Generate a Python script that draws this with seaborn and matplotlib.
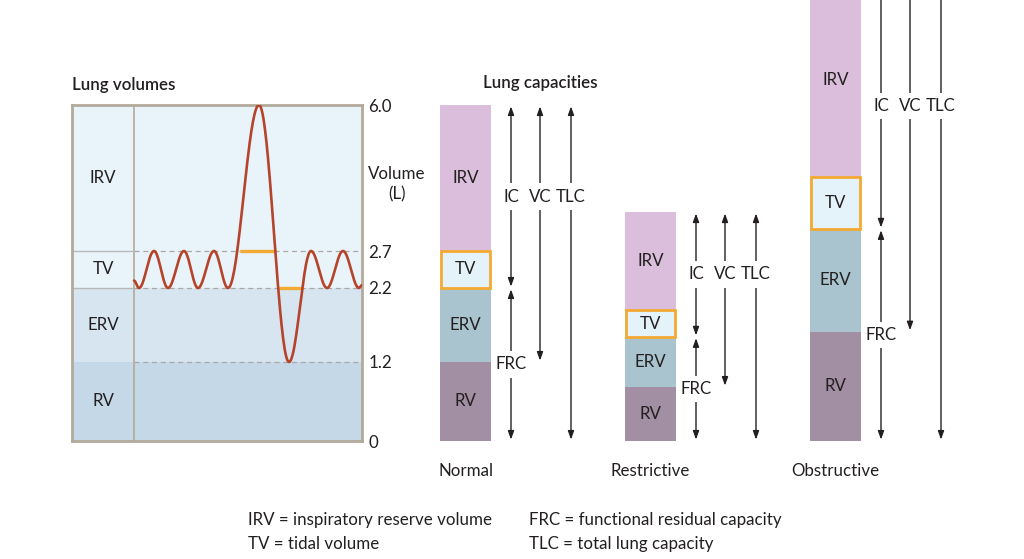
import numpy as np
import matplotlib
matplotlib.use("Agg")
import matplotlib.pyplot as plt
import seaborn as sns
import pandas as pd

# ---------------- data ----------------
volume_ticks = [0, 1.2, 2.2, 2.7, 6.0]
volume_tick_labels = ["0", "1.2", "2.2", "2.7", "6.0"]
band_names = ["RV", "ERV", "TV", "IRV"]
band_lower = [0, 1.2, 2.2, 2.7]
band_upper = [1.2, 2.2, 2.7, 6.0]

# spirogram turning points (time in arbitrary units, volume in L)
trace_time = [62, 67, 82, 96, 112, 126, 142, 156, 187, 217, 239, 255, 271, 287, 290]
trace_volume = [2.3, 2.2, 2.7, 2.2, 2.7, 2.2, 2.7, 2.2, 6.0, 1.2, 2.7, 2.2, 2.7, 2.2, 2.24]
tv_mark_start = [168, 207]
tv_mark_end = [204, 230]
tv_mark_level = [2.7, 2.2]

conditions = ["Normal", "Restrictive", "Obstructive"]
rv_top = [1.2, 0.82, 1.61]
frc_top = [2.2, 1.54, 3.2]
tv_top = [2.7, 1.90, 4.37]
tlc_top = [6.0, 3.58, 8.75]

legend_left = ["IRV = inspiratory reserve volume", "TV = tidal volume"]
legend_right = ["FRC = functional residual capacity", "TLC = total lung capacity"]

# ---------------- styling ----------------
sns.set_theme(style="white")
plt.rcParams["font.family"] = ["Lato", "DejaVu Sans"]
TXT = "#231f20"
plt.rcParams["text.color"] = TXT
FS = 12.2

C_IRV_BAND = "#e9f4fa"
C_ERV_BAND = "#d6e5f0"
C_RV_BAND = "#c5d8e7"
C_FRAME = "#b3aa9b"
C_CURVE = "#b5442a"
C_ORANGE = "#f4aa32"
C_IRV = "#dbbedb"
C_TV = "#e4f2fa"
C_ERV = "#a9c4ce"
C_RV = "#a38fa3"

# schematic (non-linear) volume scale
L_PTS = np.array([0, 1.2, 2.2, 2.7, 6.0, 20.0])
P_PTS = np.array([0, 79, 153, 190, 336, 336 + 14.0 * 146 / 3.3])


def fwd(v):
    return np.interp(v, L_PTS, P_PTS)


def inv(p):
    return np.interp(p, P_PTS, L_PTS)


def dmid(a, b):
    return float(inv((fwd(a) + fwd(b)) / 2))


W, H = 1024, 559
fig = plt.figure(figsize=(W / 100, H / 100), dpi=100)

# ---------------- left panel: lung volumes ----------------
ax1 = fig.add_axes([72 / W, 1 - 441 / H, 290 / W, 336 / H])
ax1.set_yscale("function", functions=(fwd, inv))
ax1.set_xlim(0, 290)
ax1.set_ylim(0, 6.0)
band_cols = [C_RV_BAND, C_ERV_BAND, C_IRV_BAND, C_IRV_BAND]
for lo, hi, c in zip(band_lower, band_upper, band_cols):
    ax1.axhspan(lo, hi, color=c, lw=0, zorder=0)
ax1.axvline(62, color=C_FRAME, lw=1.2, zorder=1)
for lv in [2.2, 2.7]:
    ax1.plot([0, 62], [lv, lv], color="#b8b8b8", lw=1.0, zorder=1)
for lv in [1.2, 2.2, 2.7]:
    ax1.plot([62, 290], [lv, lv], color="#a8a8a8", lw=0.9, ls=(0, (4, 3)), zorder=1)
for name, lo, hi in zip(band_names, band_lower, band_upper):
    ax1.text(31, dmid(lo, hi), name, ha="center", va="center", fontsize=FS)

# smooth trace through turning points (half-cosine between extremes, in display space)
seg_t, seg_d = [], []
dv = fwd(np.array(trace_volume))
for i in range(len(trace_time) - 1):
    s = np.linspace(0, 1, 40, endpoint=False)
    seg_t.append(trace_time[i] + (trace_time[i + 1] - trace_time[i]) * s)
    seg_d.append(dv[i] + (dv[i + 1] - dv[i]) * (1 - np.cos(np.pi * s)) / 2)
seg_t.append([trace_time[-1]])
seg_d.append([dv[-1]])
trace = pd.DataFrame({"t": np.concatenate(seg_t), "v": inv(np.concatenate(seg_d))})
for a, b, lv in zip(tv_mark_start, tv_mark_end, tv_mark_level):
    ax1.plot([a, b], [lv, lv], color=C_ORANGE, lw=2.4, zorder=2, solid_capstyle="butt")
sns.lineplot(data=trace, x="t", y="v", sort=False, estimator=None, color=C_CURVE,
             lw=1.9, ax=ax1, zorder=3)
ax1.set_xlabel("")
ax1.set_ylabel("")
ax1.set_xticks([])
ax1.yaxis.tick_right()
ax1.set_yticks(volume_ticks)
ax1.set_yticklabels(volume_tick_labels, fontsize=FS, color=TXT)
ax1.tick_params(axis="y", length=0, pad=4.5)
for sp in ax1.spines.values():
    sp.set_color(C_FRAME)
    sp.set_linewidth(2.0)
fig.text(72 / W, 1 - 85 / H, "Lung volumes", ha="left", va="center", fontsize=FS,
         fontweight="semibold")

# ---------------- right panel: lung capacities ----------------
ax2 = fig.add_axes([420 / W, 1 - 441 / H, 580 / W, 441 / H])
ax2.set_facecolor("none")
ax2.set_yscale("function", functions=(fwd, inv))
bw = 51 / 185
layers = [(tlc_top, C_IRV), (tv_top, C_TV), (frc_top, C_ERV), (rv_top, C_RV)]
for heights, col in layers:
    sns.barplot(x=conditions, y=heights, order=conditions, color=col, saturation=1,
                width=bw, linewidth=0, ax=ax2, zorder=2)
ax2.bar(range(3), np.array(tv_top) - np.array(frc_top), bottom=frc_top, width=bw - 0.012,
        fill=False, edgecolor=C_ORANGE, linewidth=2.0, zorder=2.5)
ax2.set_xlim((420 - 465.5) / 185, (1000 - 465.5) / 185)
ax2.set_ylim(0, float(inv(441)))

offs = {"IC": 45.5 / 185, "VC": 74.5 / 185, "TLC": 105.5 / 185}
aprops = dict(arrowstyle="<|-|>,head_length=0.5,head_width=0.18", color=TXT, lw=1.0,
              shrinkA=1, shrinkB=1, mutation_scale=10)
bbox = dict(boxstyle="square,pad=0.3", fc="white", ec="none")
for i in range(3):
    segs = {"IC": (tlc_top[i], frc_top[i]), "VC": (tlc_top[i], rv_top[i]),
            "TLC": (tlc_top[i], 0)}
    ylab = dmid(tlc_top[i], frc_top[i])
    for key, (top, bot) in segs.items():
        x = i + offs[key]
        ax2.annotate("", xy=(x, bot), xytext=(x, top), arrowprops=aprops,
                     annotation_clip=False, zorder=1)
        ax2.text(x, ylab, key, ha="center", va="center", fontsize=FS, bbox=bbox, zorder=1.5)
    x = i + offs["IC"]
    ax2.annotate("", xy=(x, 0), xytext=(x, frc_top[i]), arrowprops=aprops,
                 annotation_clip=False, zorder=1)
    ax2.text(x, dmid(frc_top[i], 0), "FRC", ha="center", va="center", fontsize=FS,
             bbox=bbox, zorder=1.5)
    segs_bar = [("RV", 0, rv_top[i]), ("ERV", rv_top[i], frc_top[i]),
                ("TV", frc_top[i], tv_top[i]), ("IRV", tv_top[i], tlc_top[i])]
    for name, lo, hi in segs_bar:
        ax2.text(i, dmid(lo, hi), name, ha="center", va="center", fontsize=FS, zorder=3)

ax2.set_xlabel("")
ax2.set_ylabel("")
ax2.set_yticks([])
ax2.set_xticks(range(3))
ax2.set_xticklabels(conditions, fontsize=FS, color=TXT)
ax2.tick_params(axis="x", length=0, pad=16)
for sp in ax2.spines.values():
    sp.set_visible(False)

fig.text(397 / W, 1 - 184 / H, "Volume\n(L)", ha="center", va="center",
         fontsize=FS, linespacing=1.3)
fig.text(540 / W, 1 - 83 / H, "Lung capacities", ha="center", va="center", fontsize=FS,
         fontweight="semibold")

# ---------------- legend text ----------------
for j, s in enumerate(legend_left):
    fig.text(248 / W, 1 - (520 + 24 * j) / H, s, ha="left", va="center", fontsize=FS)
for j, s in enumerate(legend_right):
    fig.text(529 / W, 1 - (520 + 24 * j) / H, s, ha="left", va="center", fontsize=FS)

fig.savefig("out.png", dpi=100)
